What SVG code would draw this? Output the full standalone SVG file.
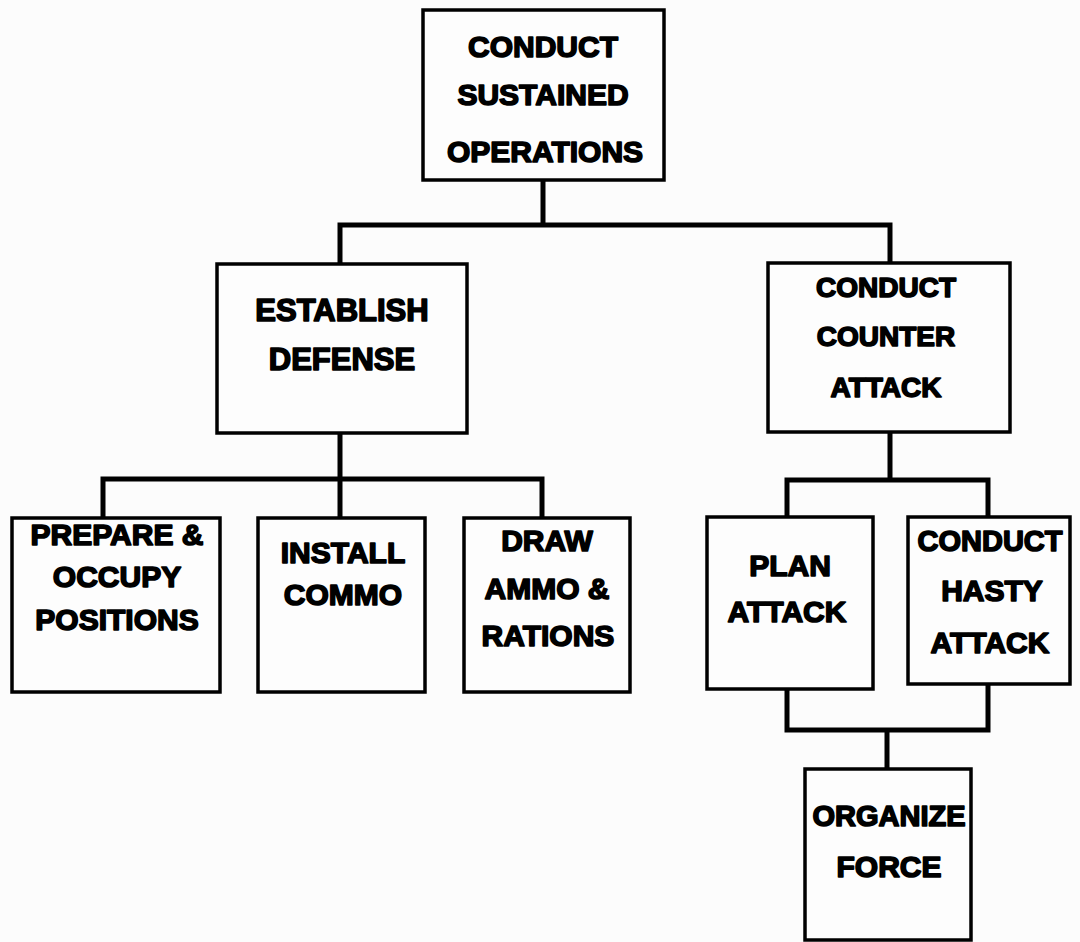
<svg xmlns="http://www.w3.org/2000/svg" width="1080" height="942" viewBox="0 0 1080 942">
<style>
.box{fill:#fdfdfd;stroke:#000;stroke-width:3.5}
.lbl{font-family:"Liberation Sans",Arial,sans-serif;font-weight:bold;font-size:30px;fill:#000;stroke:#000;stroke-width:1.6;stroke-linejoin:round;text-anchor:middle}
.con{fill:none;stroke:#000;stroke-width:5;stroke-linejoin:miter;stroke-linecap:square}
</style>
<rect width="1080" height="942" fill="#fcfcfc"/>
<g id="connectors">
<path class="con" d="M543,180 V225 M340,225 H890 M340,225 V264 M890,225 V263"/>
<path class="con" d="M340,433 V479 M103,479 H542 M103,479 V518 M340,479 V518 M542,479 V518"/>
<path class="con" d="M890,432 V480 M787,480 H988 M787,480 V517 M988,480 V517"/>
<path class="con" d="M787,689 V730 H988 V684 M887,730 V769"/>
</g>
<g id="n_sustained">
<rect class="box" x="423" y="10" width="241" height="170"/>
<text class="lbl" x="543" y="57">CONDUCT</text>
<text class="lbl" x="543" y="105">SUSTAINED</text>
<text class="lbl" x="545" y="162">OPERATIONS</text>
</g>
<g id="n_defense">
<rect class="box" x="217" y="264" width="250" height="169"/>
<text class="lbl" x="342" y="321" style="font-size:31px">ESTABLISH</text>
<text class="lbl" x="342" y="370" style="font-size:31px">DEFENSE</text>
</g>
<g id="n_counter">
<rect class="box" x="768" y="263" width="242" height="169"/>
<text class="lbl" x="886" y="297" style="font-size:28px">CONDUCT</text>
<text class="lbl" x="886" y="346" style="font-size:28px">COUNTER</text>
<text class="lbl" x="886" y="397" style="font-size:28px">ATTACK</text>
</g>
<g id="n_prepare">
<rect class="box" x="12" y="518" width="208" height="174"/>
<text class="lbl" x="117" y="545">PREPARE &amp;</text>
<text class="lbl" x="117" y="587">OCCUPY</text>
<text class="lbl" x="117" y="630">POSITIONS</text>
</g>
<g id="n_install">
<rect class="box" x="258" y="518" width="167" height="174"/>
<text class="lbl" x="343" y="563">INSTALL</text>
<text class="lbl" x="343" y="605">COMMO</text>
</g>
<g id="n_draw">
<rect class="box" x="464" y="518" width="166" height="174"/>
<text class="lbl" x="547" y="551">DRAW</text>
<text class="lbl" x="547" y="599">AMMO &amp;</text>
<text class="lbl" x="548" y="646">RATIONS</text>
</g>
<g id="n_plan">
<rect class="box" x="707" y="517" width="166" height="172"/>
<text class="lbl" x="790" y="576">PLAN</text>
<text class="lbl" x="787" y="622">ATTACK</text>
</g>
<g id="n_hasty">
<rect class="box" x="908" y="517" width="162" height="167"/>
<text class="lbl" x="990" y="551" style="font-size:29px">CONDUCT</text>
<text class="lbl" x="992" y="601">HASTY</text>
<text class="lbl" x="990" y="653">ATTACK</text>
</g>
<g id="n_organize">
<rect class="box" x="805" y="769" width="166" height="171"/>
<text class="lbl" x="889" y="826" style="font-size:29px">ORGANIZE</text>
<text class="lbl" x="889" y="877">FORCE</text>
</g>
</svg>
